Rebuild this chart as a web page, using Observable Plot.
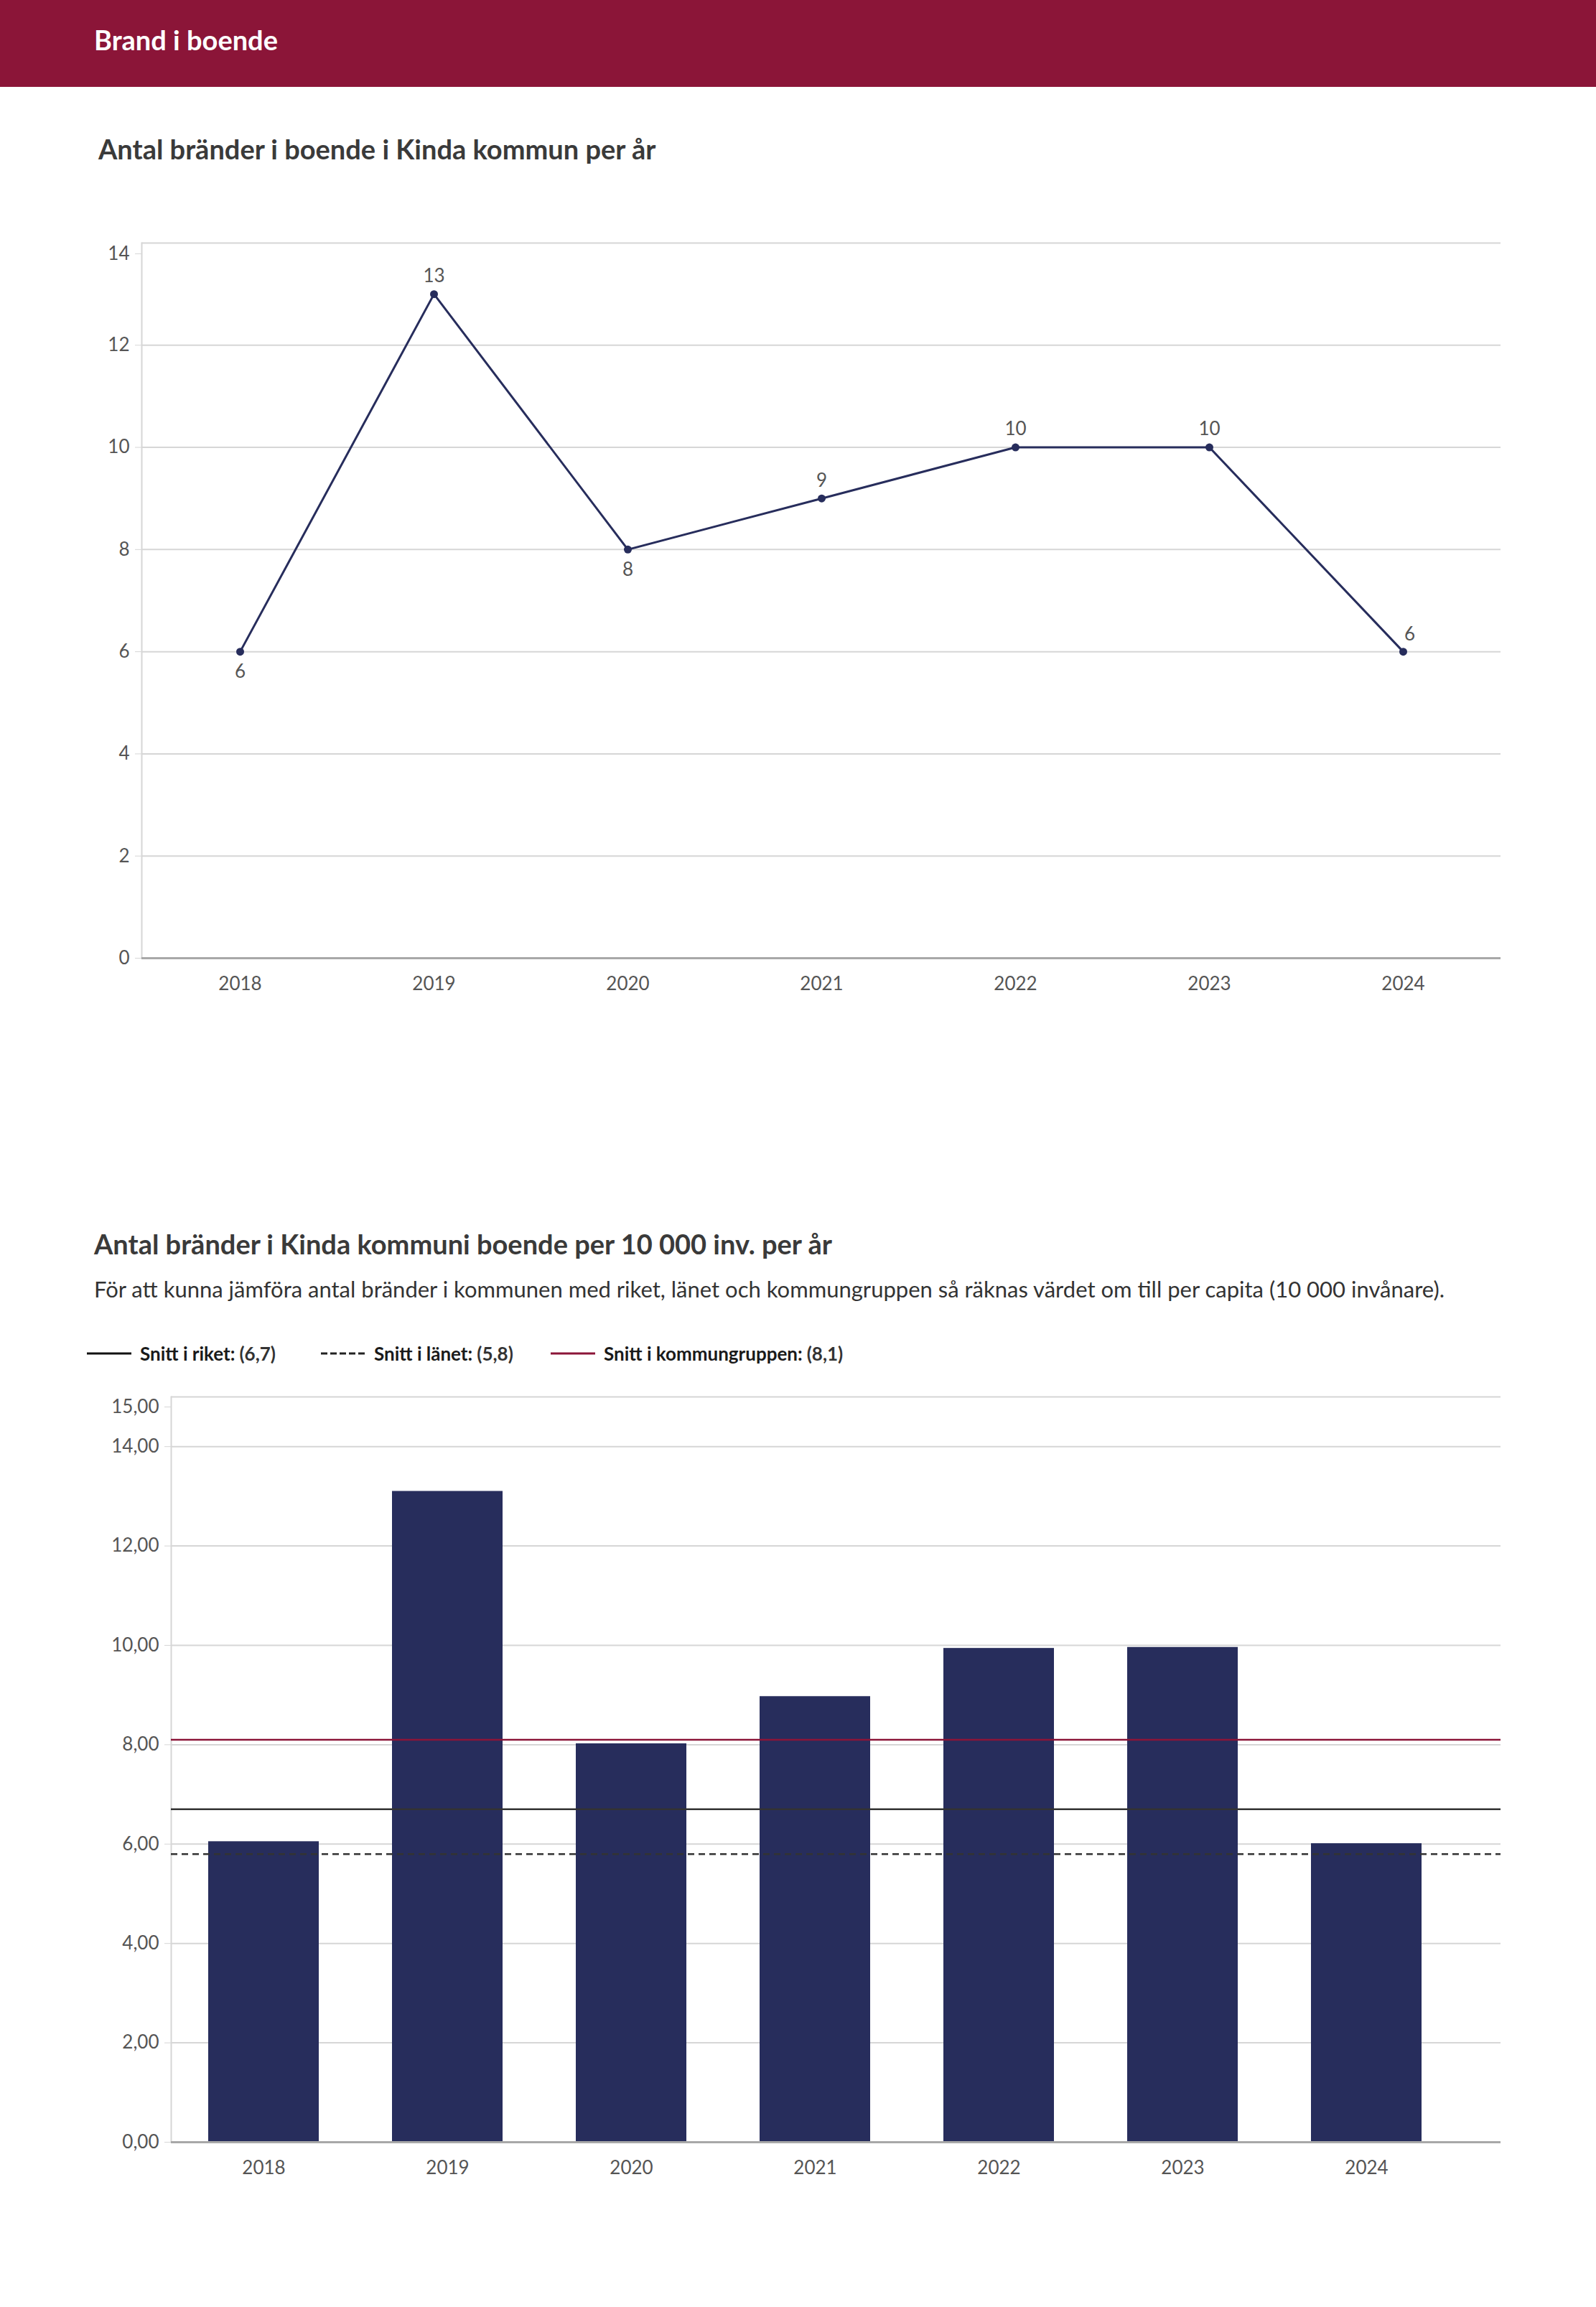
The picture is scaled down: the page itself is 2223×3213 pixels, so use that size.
<!DOCTYPE html>
<html>
<head>
<meta charset="utf-8">
<script src="https://cdn.jsdelivr.net/npm/d3@7"></script>
<script src="https://cdn.jsdelivr.net/npm/@observablehq/plot@0.6"></script>
<style>
  html, body { margin: 0; padding: 0; background: #fff; }
  body { width: 2223px; height: 3213px; position: relative; font-family: Lato, "Open Sans", sans-serif; overflow: hidden; }
  .abs { position: absolute; white-space: nowrap; }
  #header { left: 0; top: 0; width: 2223px; height: 121px; background: #8B1538; }
  #header-title { left: 131px; top: 36px; font-size: 38px; line-height: 38px; font-weight: 700; color: #fff; }
  .ctitle { font-size: 38px; line-height: 38px; font-weight: 700; color: #3a3a3a; }
  #t1 { left: 137px; top: 188px; }
  #t2 { left: 131px; top: 1713px; }
  #sub2 { left: 131px; top: 1779px; font-size: 31px; line-height: 32px; color: #333; }
  .li { position: absolute; top: 1870px; height: 30px; display: flex; align-items: center; font-size: 26px; color: #1a1a1a; white-space: nowrap; }
  .li svg { margin-right: 12px; }
  .li .lab { font-weight: 700; }
  .li .val { font-weight: 700; color: #333; margin-left: 6px; }
  #c1 { left: 0; top: 300px; }
  #c2 { left: 0; top: 1920px; }
</style>
</head>
<body>
<div id="header" class="abs"></div>
<div id="header-title" class="abs">Brand i boende</div>
<div id="t1" class="abs ctitle">Antal bränder i boende i Kinda kommun per år</div>
<div id="t2" class="abs ctitle">Antal bränder i Kinda kommuni boende per 10 000 inv. per år</div>
<div id="sub2" class="abs">För att kunna jämföra antal bränder i kommunen med riket, länet och kommungruppen så räknas värdet om till per capita (10 000 invånare).</div>
<div id="legend"></div>
<div id="c1" class="abs"></div>
<div id="c2" class="abs"></div>
<script>
// ---- Data ----
const years = ["2018", "2019", "2020", "2021", "2022", "2023", "2024"];
const fires = [6, 13, 8, 9, 10, 10, 6];
const firesPer10k = [6.05, 13.1, 8.02, 8.97, 9.94, 9.96, 6.01];
const refLabels = ["Snitt i riket", "Snitt i länet", "Snitt i kommungruppen"];
const refValues = [6.7, 5.8, 8.1];
const refLabelValues = ["(6,7)", "(5,8)", "(8,1)"];
const yTicks1 = [0, 2, 4, 6, 8, 10, 12, 14];
const yTicks2 = [0, 2, 4, 6, 8, 10, 12, 14, 15];

// ---- Styles ----
const navy = "#272D5C";
const refStyles = [
  {stroke: "#333333", swatch: "#111111", dash: null},
  {stroke: "#333333", swatch: "#222222", dash: "9,6"},
  {stroke: "#8B1538", swatch: "#8B1538", dash: null}
];
const legendLefts = [121, 447, 767];
const gridColor = "#d6d6d6";
const tickText = "#555555";

const data1 = years.map((y, i) => ({year: y, value: fires[i]}));
const below = data1.map((d, i) => {
  const prev = i > 0 ? fires[i - 1] : null;
  const next = i < fires.length - 1 ? fires[i + 1] : null;
  if (next === null) return false;
  return d.value < next && (prev === null || d.value < prev);
});
const isLast = data1.map((d, i) => i === data1.length - 1);
const max1 = yTicks1[yTicks1.length - 1];
const max2 = yTicks2[yTicks2.length - 1];

const chart1 = Plot.plot({
  width: 2223,
  height: 1100,
  marginLeft: 197,
  marginRight: 133,
  marginTop: 38,
  marginBottom: 66,
  style: {fontFamily: "Lato, 'Open Sans', sans-serif", fontSize: "26px", color: tickText, background: "white", overflow: "visible"},
  x: {type: "point", domain: years, padding: 0.5, label: null},
  y: {domain: [0, max1], label: null},
  marks: [
    Plot.gridY(yTicks1, {stroke: gridColor, strokeOpacity: 1, strokeWidth: 2}),
    Plot.frame({anchor: "left", stroke: gridColor, strokeWidth: 2}),
    Plot.ruleY([0], {stroke: "#a8a8a8", strokeWidth: 3}),
    Plot.axisY(yTicks1.filter(t => t !== max1), {tickSize: 9, tickPadding: 8, stroke: gridColor, fill: tickText, tickFormat: d => String(d), label: null}),
    Plot.axisY([max1], {tickSize: 9, tickPadding: 8, stroke: gridColor, fill: tickText, tickFormat: d => String(d), dy: 15, label: null}),
    Plot.axisX({tickSize: 0, tickPadding: 26, fill: tickText, label: null}),
    Plot.lineY(data1, {x: "year", y: "value", stroke: navy, strokeWidth: 3}),
    Plot.dot(data1, {x: "year", y: "value", r: 5.5, fill: navy, stroke: "none"}),
    Plot.text(data1.filter((d, i) => below[i]), {x: "year", y: "value", text: d => String(d.value), dy: 28, fill: tickText}),
    Plot.text(data1.filter((d, i) => !below[i] && !isLast[i]), {x: "year", y: "value", text: d => String(d.value), dy: -25, fill: tickText}),
    Plot.text(data1.filter((d, i) => isLast[i]), {x: "year", y: "value", text: d => String(d.value), dy: -24, dx: 9, fill: tickText})
  ]
});
document.getElementById("c1").appendChild(chart1);

const data2 = years.map((y, i) => ({year: y, value: firesPer10k[i]}));
const refs = refLabels.map((l, i) => ({label: l, value: refValues[i], ...refStyles[i]}));
const fmt2 = d => d.toFixed(2).replace(".", ",");

const chart2 = Plot.plot({
  width: 2223,
  height: 1143,
  marginLeft: 238,
  marginRight: 133,
  marginTop: 25,
  marginBottom: 80,
  style: {fontFamily: "Lato, 'Open Sans', sans-serif", fontSize: "26px", color: tickText, background: "white", overflow: "visible"},
  x: {type: "band", domain: years, paddingInner: 0.4, paddingOuter: 0.2, range: [238, 2031], label: null},
  y: {domain: [0, max2], label: null},
  marks: [
    Plot.gridY(yTicks2, {stroke: gridColor, strokeOpacity: 1, strokeWidth: 2}),
    Plot.frame({anchor: "left", stroke: gridColor, strokeWidth: 2}),
    Plot.barY(data2, {x: "year", y: "value", fill: navy}),
    Plot.ruleY([0], {stroke: "#a8a8a8", strokeWidth: 3}),
    ...refs.map(r => Plot.ruleY([r.value], {stroke: r.stroke, strokeWidth: 2.5, strokeDasharray: r.dash})),
    Plot.axisY(yTicks2.filter(t => t !== max2), {tickSize: 9, tickPadding: 8, stroke: gridColor, fill: tickText, tickFormat: fmt2, label: null}),
    Plot.axisY([max2], {tickSize: 9, tickPadding: 8, stroke: gridColor, fill: tickText, tickFormat: fmt2, dy: 14, label: null}),
    Plot.axisX({tickSize: 0, tickPadding: 26, fill: tickText, label: null})
  ]
});
document.getElementById("c2").appendChild(chart2);

// ---- Legend ----
const legend = d3.select("#legend");
refs.forEach((r, i) => {
  const item = legend.append("div").attr("class", "li").style("left", legendLefts[i] + "px");
  const sw = item.append("svg").attr("width", 62).attr("height", 10);
  sw.append("line").attr("x1", 0).attr("x2", 62).attr("y1", 5).attr("y2", 5)
    .attr("stroke", r.swatch)
    .attr("stroke-width", 3)
    .attr("stroke-dasharray", r.dash ? "9,4" : null);
  item.append("span").attr("class", "lab").text(`${r.label}:`);
  item.append("span").attr("class", "val").text(refLabelValues[i]);
});
</script>
</body>
</html>
